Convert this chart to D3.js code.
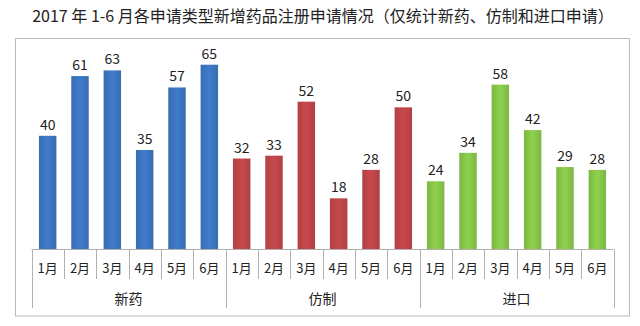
<!DOCTYPE html>
<html><head><meta charset="utf-8">
<script src="https://cdn.jsdelivr.net/npm/d3@7/dist/d3.min.js"></script>
<style>body{margin:0;background:#fff;}svg{display:block;}</style>
</head><body>
<script>
const title = "2017 年 1-6 月各申请类型新增药品注册申请情况（仅统计新药、仿制和进口申请）";
const groups = ["新药", "仿制", "进口"];
const months = ["1月", "2月", "3月", "4月", "5月", "6月"];
const newDrug = [40, 61, 63, 35, 57, 65];
const generic = [32, 33, 52, 18, 28, 50];
const imported = [24, 34, 58, 42, 29, 28];
const seriesValues = [newDrug, generic, imported];
const colors = ["#3d77c2", "#c0464a", "#88c84a"];

const W = 640, H = 326;
const svg = d3.select("body").append("svg").attr("width", W).attr("height", H);
const font = "'Noto Sans CJK SC', 'Noto Sans', sans-serif";

const data = [];
groups.forEach((g, gi) => months.forEach((m, mi) => data.push({g, gi, m, v: seriesValues[gi][mi], key: g + "|" + m})));

const x = d3.scaleBand().domain(data.map(d => d.key)).range([31.5, 613.5]).paddingInner(0.46).paddingOuter(0.23);
const y = d3.scaleLinear().domain([0, 70]).range([249.5, 50.5]);
const slot = d3.scaleBand().domain(data.map(d => d.key)).range([31.5, 613.5]);
const gx = d3.scaleBand().domain(groups).range([31.5, 613.5]);

// gradients
const defs = svg.append("defs");
colors.forEach((c, i) => {
  const grad = defs.append("linearGradient").attr("id", "g" + i).attr("x1", 0).attr("x2", 1).attr("y1", 0).attr("y2", 0);
  const dk = d3.color(c).darker(0.25), lt = d3.color(c).brighter(0.12);
  grad.append("stop").attr("offset", "0%").attr("stop-color", dk);
  grad.append("stop").attr("offset", "50%").attr("stop-color", lt);
  grad.append("stop").attr("offset", "100%").attr("stop-color", dk);
});

// chart border
svg.append("rect").attr("x", 15.5).attr("y", 38.5).attr("width", 614).attr("height", 277.5)
  .attr("fill", "#fff").attr("stroke", "#b9b9b9").attr("stroke-width", 1);

// title
svg.append("text").attr("x", 323).attr("y", 22).attr("text-anchor", "middle")
  .attr("font-family", font).attr("font-size", 16).attr("fill", "#222").text(title);

// bars
svg.append("g").selectAll("rect").data(data).join("rect")
  .attr("x", d => x(d.key)).attr("width", x.bandwidth())
  .attr("y", d => y(d.v)).attr("height", d => y(0) - y(d.v))
  .attr("fill", d => `url(#g${d.gi})`);

// value labels
svg.append("g").selectAll("text").data(data).join("text")
  .attr("x", d => x(d.key) + x.bandwidth() / 2).attr("y", d => y(d.v) - 6)
  .attr("text-anchor", "middle").attr("font-family", font).attr("font-size", 14).attr("fill", "#222")
  .text(d => d.v);

// axis
const axis = svg.append("g").attr("stroke", "#b0b0b0").attr("stroke-width", 1);
axis.append("line").attr("x1", 31.5).attr("x2", 613.5).attr("y1", 249.5).attr("y2", 249.5);
const bounds = data.map(d => slot(d.key)).concat([613.5]);
bounds.forEach((bx, i) => {
  const isGroup = i % 6 === 0;
  axis.append("line").attr("x1", Math.round(bx) + 0.5).attr("x2", Math.round(bx) + 0.5)
    .attr("y1", 249.5).attr("y2", isGroup ? 308 : 279);
});

svg.append("g").selectAll("text").data(data).join("text")
  .attr("x", d => slot(d.key) + slot.bandwidth() / 2).attr("y", 273)
  .attr("text-anchor", "middle").attr("font-family", font).attr("font-size", 13).attr("fill", "#222")
  .text(d => d.m);

svg.append("g").selectAll("text").data(groups).join("text")
  .attr("x", d => gx(d) + gx.bandwidth() / 2).attr("y", 304)
  .attr("text-anchor", "middle").attr("font-family", font).attr("font-size", 14).attr("fill", "#222")
  .text(d => d);
</script>
</body></html>
